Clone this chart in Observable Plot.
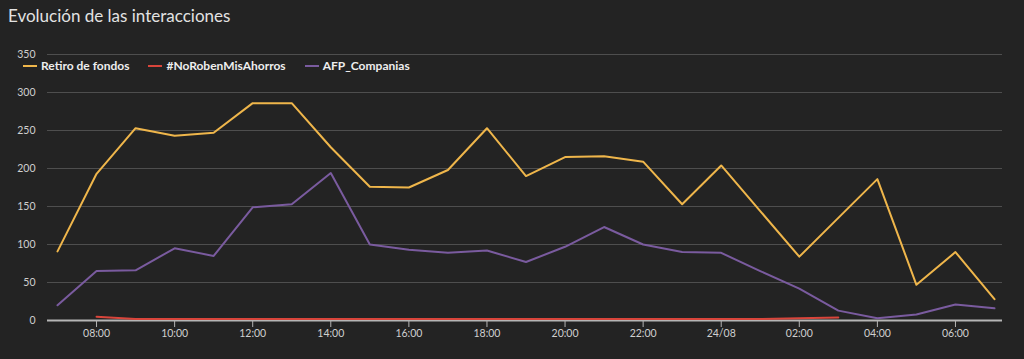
<!DOCTYPE html>
<html><head><meta charset="utf-8">
<script src="https://cdn.jsdelivr.net/npm/d3@7"></script>
<script src="https://cdn.jsdelivr.net/npm/@observablehq/plot@0.6"></script>
<style>
body{margin:0;background:#232323;font-family:Lato,"Open Sans",sans-serif;}
#wrap{position:relative;width:1024px;height:359px;overflow:hidden;background:#232323}
#title{height:40px;box-sizing:border-box;padding:5px 0 0 8px;color:#e2e2e2;font-size:17px;white-space:nowrap}
#legend{position:absolute;top:58px;left:23px;display:flex;font-weight:bold;font-size:12px;color:#eee;white-space:nowrap}
#legend .item{display:flex;align-items:center;margin-right:19px}
#legend .sw{width:14px;height:2px;margin-right:4px}
#chart svg{display:block}
</style></head>
<body>
<div id="wrap">
<div id="title">Evolución de las interacciones</div>
<div id="chart"></div>
<div id="legend"></div>
</div>
<script>
// Data: hourly values from 23/08 07:00 to 24/08 07:00
const seriesNames = ["Retiro de fondos", "#NoRobenMisAhorros", "AFP_Companias"];
const seriesColors = ["#efb64b", "#d9453b", "#7a5b9f"];
const startHour = "2020-08-23T07:00:00Z";
const retiro = [91,193,253,243,247,286,286,228,176,175,198,253,190,215,216,209,153,204,144,84,135,186,47,90,28];
const noRoben = [null,5,2,2,2,2,2,2,2,2,2,2,2,2,2,2,2,2,2,3,4];
const afp = [20,65,66,95,85,149,153,194,100,93,89,92,77,97,123,100,90,89,65,42,13,3,8,21,16];
const yTicks = [0,50,100,150,200,250,300,350];

const t0 = new Date(startHour);
const times = d3.utcHour.range(t0, d3.utcHour.offset(t0, 25));
const rows = [];
[retiro, noRoben, afp].forEach((vals, i) => {
  vals.forEach((v, j) => { if (v != null) rows.push({t: times[j], v, s: seriesNames[i]}); });
});
const xTicks = times.filter(d => d.getUTCHours() % 2 === 0);
const fmt = d => d.getUTCHours() === 0 ? d3.utcFormat("%d/%m")(d) : d3.utcFormat("%H:%M")(d);

const chart = Plot.plot({
  width: 1024, height: 319,
  marginTop: 14, marginBottom: 39, marginLeft: 47, marginRight: 22,
  style: {background: "transparent", color: "#cfcfcf", fontSize: "10.5px", fontFamily: "Lato, 'Open Sans', sans-serif"},
  x: {type: "utc", domain: [times[0], times[times.length - 1]], insetLeft: 10, insetRight: 8},
  y: {domain: [0, 350]},
  color: {domain: seriesNames, range: seriesColors},
  marks: [
    Plot.gridY(yTicks.filter(d => d > 0), {stroke: "#4e4e4e", strokeOpacity: 1, strokeWidth: 1}),
    Plot.axisY(yTicks, {tickSize: 0, tickPadding: 12, label: null, fill: "#cfcfcf"}),
    Plot.ruleY([0], {stroke: "#b5b5b5", strokeWidth: 2}),
    Plot.axisX(xTicks, {tickSize: 7, tickPadding: 2, tickFormat: fmt, label: null, stroke: "#b5b5b5", fill: "#cfcfcf"}),
    Plot.line(rows, {x: "t", y: "v", z: "s", stroke: "s", strokeWidth: 2})
  ]
});
document.getElementById("chart").appendChild(chart);

const lg = document.getElementById("legend");
seriesNames.forEach((n, i) => {
  const it = document.createElement("div"); it.className = "item";
  const sw = document.createElement("div"); sw.className = "sw"; sw.style.background = seriesColors[i];
  const tx = document.createElement("span"); tx.textContent = n;
  it.appendChild(sw); it.appendChild(tx); lg.appendChild(it);
});
</script>
</body></html>
